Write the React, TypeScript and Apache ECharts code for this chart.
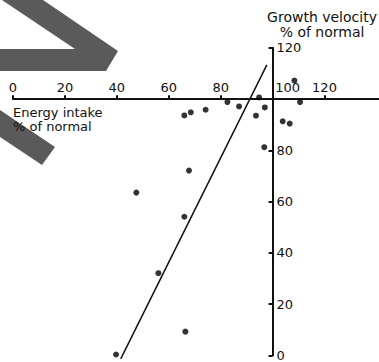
import React, { useEffect, useRef } from "react";
import * as echarts from "echarts";

const xTicks = [0, 20, 40, 60, 80, 100, 120];
const yTicks = [0, 20, 40, 60, 80, 120];
const energyIntake = [66.0, 68.5, 74.2, 82.6, 87.1, 94.8, 93.6, 97.0, 108.4, 110.6, 103.9, 106.6, 96.8, 67.8, 47.5, 66.0, 56.0, 66.4, 39.7];
const growthVelocity = [93.6, 94.8, 95.8, 98.8, 97.1, 100.6, 93.5, 96.7, 107.2, 98.8, 91.3, 90.4, 81.2, 72.1, 63.5, 54.1, 32.1, 9.3, 0.4];
const fitX = [41.5, 97.8];
const fitY = [-1.3, 113.3];

const FONT = "DejaVu Sans";

export default function App() {
  const ref = useRef<HTMLDivElement>(null);
  useEffect(() => {
    document.body.style.margin = "0";
    const chart = echarts.init(ref.current!, null, { renderer: "svg" });
    const gridTop = 47.7;
    const gridBottom = 5.3;
    const gridLeft = 13;
    const plotH = 362 - gridTop - gridBottom;
    const plotW = 379 - gridLeft;
    const xMax = 141;
    const yAt100 = gridTop + (20 / 120) * plotH;
    const xAt100 = (100 / xMax) * plotW;
    const axisColor = "#111";
    chart.setOption({
      animation: false,
      grid: { left: gridLeft, right: 0, top: gridTop, bottom: gridBottom },
      xAxis: {
        type: "value",
        min: 0,
        max: xMax,
        interval: 20,
        position: "top",
        offset: -(yAt100 - gridTop),
        splitLine: { show: false },
        axisLine: { onZero: false, lineStyle: { color: axisColor, width: 2 } },
        axisTick: { customValues: xTicks, length: 4, lineStyle: { color: axisColor, width: 2 } },
        axisLabel: {
          customValues: xTicks,
          margin: 5,
          color: "#111",
          fontFamily: FONT,
          fontSize: 13,
          formatter: (v: number) => (v === 100 ? "{s|100}" : String(v)),
          rich: { s: { padding: [0, 0, 0, 30], fontFamily: FONT, fontSize: 13, color: "#111" } },
        },
      },
      yAxis: {
        type: "value",
        min: 0,
        max: 120,
        interval: 20,
        position: "left",
        offset: -xAt100,
        splitLine: { show: false },
        axisLine: { onZero: false, lineStyle: { color: axisColor, width: 2 } },
        axisTick: { customValues: yTicks, length: 4, inside: false, lineStyle: { color: axisColor, width: 2 } },
        axisLabel: {
          customValues: yTicks,
          inside: true,
          margin: 4,
          color: "#111",
          fontFamily: FONT,
          fontSize: 13,
        },
      },
      graphic: [
        {
          type: "polygon",
          shape: { points: [[2, 0], [43, 0], [118, 51], [106, 71], [0, 71], [0, 49], [75, 49]] },
          style: { fill: "#5a5a5a" },
          z: 10,
        },
        {
          type: "polygon",
          shape: { points: [[0, 110], [55, 147], [42, 165], [0, 137]] },
          style: { fill: "#5a5a5a" },
          z: 10,
        },
        {
          type: "text",
          x: 13,
          y: 106,
          style: { text: "Energy intake\n% of normal", font: `13px "${FONT}"`, fill: "#111", lineHeight: 13.5 },
          z: 20,
        },
        {
          type: "text",
          x: 322,
          y: 10,
          style: { text: "Growth velocity\n% of normal", font: `14px "${FONT}"`, fill: "#111", align: "center", lineHeight: 14.5 },
          z: 20,
        },
      ],
      series: [
        {
          type: "scatter",
          data: energyIntake.map((x, i) => [x, growthVelocity[i]]),
          symbolSize: 6,
          itemStyle: { color: "#000" },
          z: 5,
        },
        {
          type: "line",
          data: fitX.map((x, i) => [x, fitY[i]]),
          showSymbol: false,
          clip: false,
          lineStyle: { color: "#111", width: 1.5 },
          z: 4,
        },
      ],
    });
    return () => chart.dispose();
  }, []);
  return <div ref={ref} style={{ width: 379, height: 362 }} />;
}
